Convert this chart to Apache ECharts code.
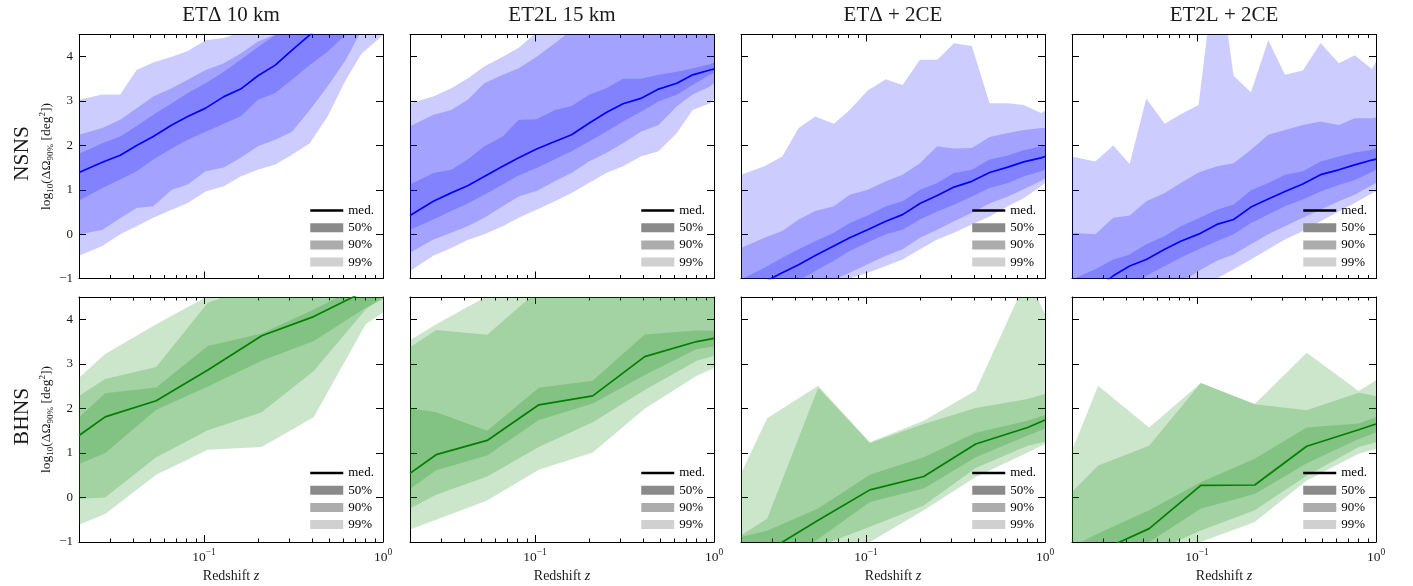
<!DOCTYPE html>
<html><head><meta charset="utf-8">
<script src="https://cdn.jsdelivr.net/npm/echarts@6/dist/echarts.min.js"></script>
<style>html,body{margin:0;padding:0;background:#fff}#c{width:1413px;height:586px}</style>
</head><body><div id="c"></div>
<script>
// ---------- data ----------
const columnTitles = ['ETΔ 10 km', 'ET2L 15 km', 'ETΔ + 2CE', 'ET2L + 2CE'];
const rowLabels = ['NSNS', 'BHNS'];
const legendNames = ['med.', '50%', '90%', '99%'];
const yTicks = [-1, 0, 1, 2, 3, 4];
const xMajorTicks = [0.1, 1];
const xMinorTicks = [0.02, 0.03, 0.04, 0.05, 0.06, 0.07, 0.08, 0.09, 0.2, 0.3, 0.4, 0.5, 0.6, 0.7, 0.8, 0.9];

const zNSNS = [0.02, 0.027, 0.034, 0.042, 0.052, 0.066, 0.081, 0.102, 0.129, 0.16, 0.2, 0.25, 0.31, 0.39, 0.49, 0.62, 0.76, 0.95, 1.0];
const zBHNS = [0.02, 0.028, 0.054, 0.105, 0.21, 0.41, 0.8, 1.0];

// NSNS, ETΔ 10 km
const ns1Med  = [1.39, 1.62, 1.78, 2.0, 2.2, 2.46, 2.65, 2.84, 3.1, 3.27, 3.57, 3.81, 4.15, 4.49, 4.85, 5.2, 5.5, 5.8, 5.9];
const ns1Hi50 = [1.81, 2.05, 2.2, 2.44, 2.69, 2.95, 3.18, 3.4, 3.66, 3.93, 4.22, 4.49, 4.8, 5.1, 5.4, 5.7, 6.0, 6.2, 6.3];
const ns1Lo50 = [0.76, 1.04, 1.23, 1.42, 1.68, 1.93, 2.13, 2.31, 2.49, 2.65, 3.03, 3.18, 3.48, 3.81, 4.11, 4.5, 4.8, 5.1, 5.2];
const ns1Hi90 = [2.24, 2.39, 2.58, 2.84, 3.1, 3.29, 3.48, 3.7, 3.85, 4.07, 4.34, 4.5, 4.8, 5.1, 5.4, 5.7, 6.0, 6.2, 6.3];
const ns1Lo90 = [-0.01, 0.1, 0.36, 0.59, 0.63, 1.0, 1.12, 1.42, 1.5, 1.72, 1.98, 2.13, 2.31, 2.8, 3.33, 3.93, 4.6, 4.9, 5.0];
const ns1Hi99 = [3.03, 3.15, 3.15, 3.7, 3.87, 4.0, 4.13, 4.37, 4.42, 4.55, 4.8, 5.0, 5.2, 5.4, 5.6, 5.8, 6.0, 6.2, 6.3];
const ns1Lo99 = [-0.49, -0.27, 0.0, 0.18, 0.37, 0.55, 0.7, 0.96, 1.08, 1.3, 1.45, 1.57, 1.79, 2.05, 2.65, 3.48, 4.07, 4.41, 4.5];

// NSNS, ET2L 15 km
const ns2Med  = [0.42, 0.74, 0.93, 1.09, 1.3, 1.53, 1.72, 1.92, 2.09, 2.24, 2.5, 2.74, 2.94, 3.06, 3.27, 3.4, 3.59, 3.7, 3.72];
const ns2Hi50 = [1.12, 1.38, 1.45, 1.68, 1.98, 2.2, 2.58, 2.59, 2.8, 2.89, 3.14, 3.29, 3.5, 3.5, 3.59, 3.66, 3.74, 3.83, 3.87];
const ns2Lo50 = [0.1, 0.33, 0.52, 0.69, 0.89, 1.12, 1.32, 1.49, 1.69, 1.87, 2.09, 2.31, 2.54, 2.76, 2.99, 3.14, 3.36, 3.59, 3.63];
const ns2Hi90 = [2.43, 2.69, 2.8, 3.03, 3.4, 3.59, 3.74, 4.0, 4.3, 4.6, 4.9, 5.2, 5.4, 5.6, 5.8, 6.0, 6.2, 6.4, 6.5];
const ns2Lo90 = [-0.42, -0.12, 0.03, 0.18, 0.37, 0.63, 0.85, 0.97, 1.19, 1.38, 1.64, 1.83, 2.05, 2.31, 2.46, 2.88, 3.15, 3.33, 3.4];
const ns2Hi99 = [2.95, 3.1, 3.29, 3.51, 3.78, 4.0, 4.2, 4.55, 4.8, 5.0, 5.3, 5.5, 5.7, 5.9, 6.1, 6.3, 6.5, 6.7, 6.8];
const ns2Lo99 = [-0.83, -0.49, -0.31, -0.13, 0.0, 0.18, 0.37, 0.55, 0.74, 0.93, 1.15, 1.38, 1.53, 1.75, 1.87, 2.28, 2.8, 2.95, 3.04];

// NSNS, ETΔ + 2CE
const ns3Med  = [-1.33, -1.08, -0.87, -0.69, -0.48, -0.27, -0.08, 0.1, 0.29, 0.44, 0.69, 0.87, 1.06, 1.19, 1.39, 1.51, 1.63, 1.72, 1.75];
const ns3Hi50 = [-1.02, -0.76, -0.53, -0.34, -0.16, 0.03, 0.25, 0.42, 0.63, 0.74, 1.0, 1.15, 1.38, 1.45, 1.68, 1.77, 1.89, 1.98, 2.0];
const ns3Lo50 = [-1.8, -1.55, -1.3, -1.05, -0.83, -0.6, -0.38, -0.19, 0.0, 0.1, 0.33, 0.51, 0.66, 0.85, 1.04, 1.15, 1.3, 1.42, 1.45];
const ns3Hi90 = [-0.31, -0.08, 0.07, 0.33, 0.52, 0.63, 0.89, 1.0, 1.19, 1.34, 1.6, 1.98, 1.93, 1.94, 2.19, 2.28, 2.35, 2.39, 2.39];
const ns3Lo90 = [-2.2, -1.9, -1.7, -1.45, -1.25, -1.03, -0.87, -0.68, -0.49, -0.34, -0.08, 0.1, 0.29, 0.48, 0.69, 0.85, 1.01, 1.2, 1.26];
const ns3Hi99 = [1.34, 1.53, 1.75, 2.39, 2.65, 2.49, 2.8, 3.24, 3.49, 3.36, 3.93, 3.93, 4.3, 4.24, 2.95, 2.95, 2.91, 2.73, 2.78];
const ns3Lo99 = [-2.6, -2.3, -2.1, -1.8, -1.6, -1.35, -1.0, -0.87, -0.72, -0.57, -0.34, -0.12, 0.03, 0.22, 0.4, 0.63, 0.81, 1.08, 1.15];

// NSNS, ET2L + 2CE
const ns4Med  = [-1.6, -1.25, -0.94, -0.72, -0.57, -0.34, -0.16, 0.0, 0.22, 0.33, 0.61, 0.79, 0.96, 1.13, 1.34, 1.45, 1.56, 1.67, 1.69];
const ns4Hi50 = [-1.02, -0.79, -0.57, -0.46, -0.23, -0.04, 0.18, 0.36, 0.55, 0.67, 0.99, 1.15, 1.34, 1.42, 1.64, 1.75, 1.84, 1.9, 1.93];
const ns4Lo50 = [-1.9, -1.6, -1.4, -1.2, -0.94, -0.72, -0.53, -0.34, -0.16, 0.0, 0.25, 0.44, 0.63, 0.78, 0.96, 1.11, 1.22, 1.4, 1.45];
const ns4Hi90 = [0.03, 0.0, 0.37, 0.42, 0.74, 0.93, 1.15, 1.39, 1.53, 1.6, 1.9, 2.24, 2.35, 2.46, 2.54, 2.46, 2.61, 2.61, 2.63];
const ns4Lo90 = [-2.3, -2.0, -1.8, -1.6, -1.4, -1.25, -1.1, -0.83, -0.6, -0.46, -0.23, 0.0, 0.18, 0.37, 0.55, 0.74, 0.89, 1.1, 1.15];
const ns4Hi99 = [1.75, 1.64, 2.0, 1.58, 3.06, 2.49, 2.7, 2.91, 6.3, 3.57, 3.2, 4.37, 3.59, 3.69, 4.31, 3.85, 4.03, 3.72, 3.89];
const ns4Lo99 = [-2.8, -2.5, -2.3, -2.1, -1.9, -1.7, -1.5, -1.2, -1.0, -0.79, -0.57, -0.34, -0.12, 0.07, 0.29, 0.51, 0.7, 0.92, 0.96];

// BHNS, ETΔ 10 km
const bh1Med  = [1.39, 1.81, 2.17, 2.86, 3.63, 4.06, 4.64, 4.84];
const bh1Hi50 = [1.8, 2.34, 2.47, 3.4, 3.68, 4.22, 4.8, 5.0];
const bh1Lo50 = [0.75, 1.0, 1.97, 2.49, 3.07, 3.51, 4.26, 4.45];
const bh1Hi90 = [2.28, 2.66, 2.93, 4.37, 4.8, 5.0, 5.2, 5.3];
const bh1Lo90 = [-0.03, 0.0, 0.9, 1.51, 1.91, 2.84, 4.22, 4.5];
const bh1Hi99 = [2.69, 3.22, 3.89, 4.52, 4.9, 5.1, 5.3, 5.4];
const bh1Lo99 = [-0.61, -0.37, 0.51, 1.07, 1.13, 1.8, 3.89, 4.15];

// BHNS, ET2L 15 km
const bh2Med  = [0.54, 0.96, 1.28, 2.08, 2.28, 3.16, 3.5, 3.57];
const bh2Hi50 = [2.0, 1.91, 1.5, 2.46, 2.62, 3.66, 3.75, 3.74];
const bh2Lo50 = [0.19, 0.61, 0.94, 1.74, 2.11, 2.75, 3.33, 3.39];
const bh2Hi90 = [3.37, 3.76, 3.65, 4.66, 4.9, 5.1, 5.2, 5.2];
const bh2Lo90 = [-0.25, 0.06, 0.47, 1.13, 1.69, 2.41, 3.07, 3.18];
const bh2Hi99 = [3.53, 3.89, 4.52, 5.0, 5.2, 5.3, 5.4, 5.4];
const bh2Lo99 = [-0.72, -0.5, -0.07, 0.62, 1.01, 1.99, 2.73, 2.9];

// BHNS, ETΔ + 2CE
const bh3Med  = [-1.56, -1.21, -0.51, 0.17, 0.47, 1.2, 1.57, 1.74];
const bh3Hi50 = [-0.89, -0.75, -0.25, 0.51, 0.9, 1.45, 1.72, 1.85];
const bh3Lo50 = [-1.8, -1.6, -0.93, -0.1, 0.2, 0.9, 1.39, 1.54];
const bh3Hi90 = [-0.85, -0.48, 2.46, 1.22, 1.65, 2.01, 2.21, 2.32];
const bh3Lo90 = [-2.3, -2.0, -1.1, -0.66, -0.18, 0.66, 1.16, 1.25];
const bh3Hi99 = [0.54, 1.78, 2.51, 1.24, 1.72, 2.4, 4.95, 4.11];
const bh3Lo99 = [-2.8, -2.5, -1.6, -1.0, -0.29, 0.46, 1.01, 1.2];

// BHNS, ET2L + 2CE
const bh4Med  = [-1.49, -1.22, -0.7, 0.27, 0.28, 1.15, 1.52, 1.65];
const bh4Hi50 = [-1.1, -0.81, -0.29, 0.34, 0.87, 1.57, 1.66, 1.8];
const bh4Lo50 = [-1.8, -1.5, -1.0, -0.25, 0.08, 0.77, 1.31, 1.46];
const bh4Hi90 = [0.12, 0.72, 1.16, 2.57, 2.09, 1.96, 2.35, 2.28];
const bh4Lo90 = [-2.4, -2.0, -1.26, -0.74, -0.29, 0.49, 1.13, 1.24];
const bh4Hi99 = [1.05, 2.51, 1.57, 2.57, 2.1, 3.25, 2.39, 2.63];
const bh4Lo99 = [-2.8, -2.5, -1.5, -1.0, -0.55, 0.38, 0.98, 1.09];

// ---------- layout / style ----------
const FONT = '"Liberation Serif", "DejaVu Serif", serif';
const TXT = '#1a1a1a';
const colLeft = [79, 410, 741, 1072];
const colWidth = 304;
const rowTop = [34.5, 297];
const rowHeight = [244, 245];
const bandColor = ['rgba(0,0,255,0.2)', 'rgba(0,128,0,0.2)'];
const lineColor = ['#0000ff', '#008000'];
const legendColors = ['#8a8a8a', '#acacac', '#d0d0d0'];

const panels = [
  {row: 0, col: 0, z: zNSNS, med: ns1Med, bands: [[ns1Lo99, ns1Hi99], [ns1Lo90, ns1Hi90], [ns1Lo50, ns1Hi50]]},
  {row: 0, col: 1, z: zNSNS, med: ns2Med, bands: [[ns2Lo99, ns2Hi99], [ns2Lo90, ns2Hi90], [ns2Lo50, ns2Hi50]]},
  {row: 0, col: 2, z: zNSNS, med: ns3Med, bands: [[ns3Lo99, ns3Hi99], [ns3Lo90, ns3Hi90], [ns3Lo50, ns3Hi50]]},
  {row: 0, col: 3, z: zNSNS, med: ns4Med, bands: [[ns4Lo99, ns4Hi99], [ns4Lo90, ns4Hi90], [ns4Lo50, ns4Hi50]]},
  {row: 1, col: 0, z: zBHNS, med: bh1Med, bands: [[bh1Lo99, bh1Hi99], [bh1Lo90, bh1Hi90], [bh1Lo50, bh1Hi50]]},
  {row: 1, col: 1, z: zBHNS, med: bh2Med, bands: [[bh2Lo99, bh2Hi99], [bh2Lo90, bh2Hi90], [bh2Lo50, bh2Hi50]]},
  {row: 1, col: 2, z: zBHNS, med: bh3Med, bands: [[bh3Lo99, bh3Hi99], [bh3Lo90, bh3Hi90], [bh3Lo50, bh3Hi50]]},
  {row: 1, col: 3, z: zBHNS, med: bh4Med, bands: [[bh4Lo99, bh4Hi99], [bh4Lo90, bh4Hi90], [bh4Lo50, bh4Hi50]]}
];
const bandNames = ['99%', '90%', '50%'];

const grids = [], xAxes = [], yAxes = [], series = [], legends = [];
const axisLineStyle = {color: '#000', width: 1};

function xAxisBase(g) {
  return {type: 'log', logBase: 10, min: 0.02, max: 1, gridIndex: g,
    splitLine: {show: false}, axisLabel: {show: false}, silent: true};
}
function yAxisBase(g) {
  return {type: 'value', min: -1, max: 4.5, gridIndex: g,
    splitLine: {show: false}, axisLabel: {show: false}, silent: true};
}

panels.forEach((p, g) => {
  const r = p.row, c = p.col;
  grids.push({left: colLeft[c], top: rowTop[r], width: colWidth, height: rowHeight[r], containLabel: false});

  // bottom major
  const xb = Object.assign(xAxisBase(g), {
    position: 'bottom',
    axisLine: {show: true, onZero: false, lineStyle: axisLineStyle},
    axisTick: {show: true, inside: true, length: 7, customValues: xMajorTicks, lineStyle: axisLineStyle}
  });
  if (r === 1) {
    xb.axisLabel = {
      show: true, customValues: xMajorTicks, margin: 5,
      formatter: v => '{b|10}{s|' + (Math.round(Math.log10(v)) < 0 ? '−' : '') + Math.abs(Math.round(Math.log10(v))) + '}',
      rich: {
        b: {fontFamily: FONT, fontSize: 13.5, color: TXT, lineHeight: 17, verticalAlign: 'bottom'},
        s: {fontFamily: FONT, fontSize: 9.5, color: TXT, verticalAlign: 'top'}
      }
    };
    xb.name = '{r|Redshift }{i|z}';
    xb.nameLocation = 'middle';
    xb.nameGap = 27;
    xb.nameTextStyle = {rich: {
      r: {fontFamily: FONT, fontSize: 14, color: TXT},
      i: {fontFamily: FONT, fontSize: 14, color: TXT, fontStyle: 'italic'}
    }};
  }
  xAxes.push(xb);
  // bottom minor
  xAxes.push(Object.assign(xAxisBase(g), {
    position: 'bottom',
    axisLine: {show: false, onZero: false},
    axisTick: {show: true, inside: true, length: 3.5, customValues: xMinorTicks, lineStyle: axisLineStyle}
  }));
  // top major
  xAxes.push(Object.assign(xAxisBase(g), {
    position: 'top',
    axisLine: {show: true, onZero: false, lineStyle: axisLineStyle},
    axisTick: {show: true, inside: true, length: 7, customValues: xMajorTicks, lineStyle: axisLineStyle}
  }));
  // top minor
  xAxes.push(Object.assign(xAxisBase(g), {
    position: 'top',
    axisLine: {show: false, onZero: false},
    axisTick: {show: true, inside: true, length: 3.5, customValues: xMinorTicks, lineStyle: axisLineStyle}
  }));

  const yl = Object.assign(yAxisBase(g), {
    position: 'left',
    axisLine: {show: true, onZero: false, lineStyle: axisLineStyle},
    axisTick: {show: true, inside: true, length: 7, customValues: yTicks, lineStyle: axisLineStyle}
  });
  if (c === 0) {
    yl.axisLabel = {show: true, customValues: yTicks, margin: 6, fontFamily: FONT, fontSize: 13, color: TXT,
      formatter: v => (v < 0 ? '−' + Math.abs(v) : String(v))};
    yl.name = '{n|log}{s|10}{n|(ΔΩ}{s|90%}{n| [deg}{p|2}{n|])}';
    yl.nameLocation = 'middle';
    yl.nameRotate = 90;
    yl.nameGap = 19;
    yl.nameTextStyle = {rich: {
      n: {fontFamily: FONT, fontSize: 13.5, color: TXT, lineHeight: 17},
      s: {fontFamily: FONT, fontSize: 9, color: TXT, verticalAlign: 'bottom'},
      p: {fontFamily: FONT, fontSize: 9, color: TXT, verticalAlign: 'top'}
    }};
  }
  yAxes.push(yl);
  yAxes.push(Object.assign(yAxisBase(g), {
    position: 'right',
    axisLine: {show: true, onZero: false, lineStyle: axisLineStyle},
    axisTick: {show: true, inside: true, length: 7, customValues: yTicks, lineStyle: axisLineStyle}
  }));

  const xi = 4 * g, yi = 2 * g;
  p.bands.forEach((b, k) => {
    const lo = b[0], hi = b[1], zs = p.z, fill = bandColor[r];
    series.push({
      type: 'custom', name: bandNames[k], xAxisIndex: xi, yAxisIndex: yi,
      clip: true, silent: true, z: 2,
      data: zs.map((z, i) => [z, lo[i], hi[i]]),
      encode: {x: 0, y: [1, 2]},
      renderItem: (params, api) => {
        if (params.dataIndex !== 0) return null;
        const pts = [];
        for (let i = 0; i < zs.length; i++) pts.push(api.coord([zs[i], hi[i]]));
        for (let i = zs.length - 1; i >= 0; i--) pts.push(api.coord([zs[i], lo[i]]));
        return {type: 'polygon', shape: {points: pts}, style: {fill: fill, stroke: null}};
      }
    });
  });
  series.push({
    type: 'line', name: 'med.', xAxisIndex: xi, yAxisIndex: yi,
    data: p.z.map((z, i) => [z, p.med[i]]),
    symbol: 'none', showSymbol: false, clip: true, silent: true, z: 3,
    lineStyle: {color: lineColor[r], width: 1.7},
    itemStyle: {color: lineColor[r]}
  });

  legends.push({
    left: colLeft[c] + colWidth - 74, top: rowTop[r] + 169,
    orient: 'vertical', padding: 0, itemWidth: 33, itemHeight: 9, itemGap: 3.2,
    selectedMode: false,
    textStyle: {fontFamily: FONT, fontSize: 13, color: '#000', lineHeight: 14},
    data: [
      {name: legendNames[0], lineStyle: {color: '#000', width: 2.5, opacity: 1}, itemStyle: {color: '#000', opacity: 0}},
      {name: legendNames[1], icon: 'rect', itemStyle: {color: legendColors[0], opacity: 1}},
      {name: legendNames[2], icon: 'rect', itemStyle: {color: legendColors[1], opacity: 1}},
      {name: legendNames[3], icon: 'rect', itemStyle: {color: legendColors[2], opacity: 1}}
    ]
  });
});

const graphics = [];
columnTitles.forEach((t, c) => graphics.push({
  type: 'text', x: colLeft[c] + colWidth / 2, y: 15, silent: true,
  style: {text: t, fontFamily: FONT, fontSize: 21, fill: TXT, align: 'center', verticalAlign: 'middle',
    textAlign: 'center', textVerticalAlign: 'middle'}
}));
rowLabels.forEach((t, r) => graphics.push({
  type: 'text', x: 22, y: rowTop[r] + rowHeight[r] / 2 - 3, rotation: Math.PI / 2, silent: true,
  style: {text: t, fontFamily: FONT, fontSize: 21.5, fill: TXT, align: 'center', verticalAlign: 'middle',
    textAlign: 'center', textVerticalAlign: 'middle'}
}));

const chart = echarts.init(document.getElementById('c'), null, {renderer: 'canvas'});
chart.setOption({
  animation: false,
  backgroundColor: '#ffffff',
  grid: grids,
  xAxis: xAxes,
  yAxis: yAxes,
  legend: legends,
  series: series,
  graphic: graphics
});
</script></body></html>
